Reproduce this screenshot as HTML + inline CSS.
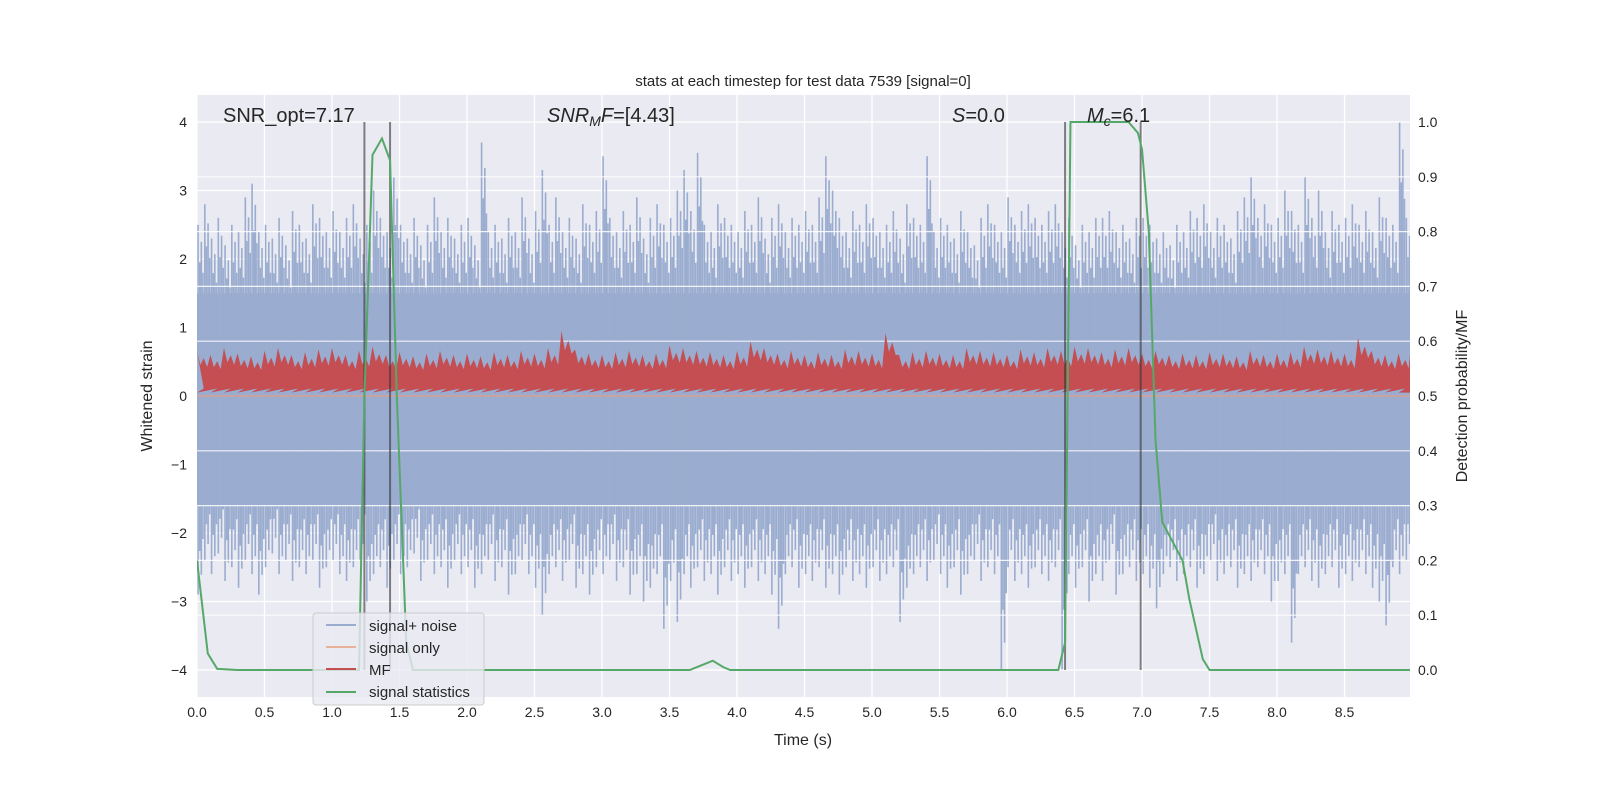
<!DOCTYPE html>
<html><head><meta charset="utf-8"><style>
body{margin:0;background:#fff;}
svg text{font-family:"Liberation Sans","DejaVu Sans",sans-serif;fill:#262626;}
</style></head><body>
<svg id="chart" width="1600" height="800" xmlns="http://www.w3.org/2000/svg">
<defs><clipPath id="pc"><rect x="197" y="95" width="1213" height="602"/></clipPath></defs>
<rect x="197" y="95" width="1213" height="602" fill="#eaeaf2"/>
<g id="grid"></g><g id="marks" clip-path="url(#pc)"></g><g id="axes"></g>
<text x="803" y="86" font-size="15" text-anchor="middle">stats at each timestep for test data 7539 [signal=0]</text>
<text x="223" y="122" font-size="20">SNR_opt=7.17</text>
<text x="547" y="122" font-size="20"><tspan font-style="italic">SNR</tspan><tspan font-style="italic" font-size="14" dy="4">M</tspan><tspan font-style="italic" dy="-4">F</tspan>=[4.43]</text>
<text x="952" y="122" font-size="20"><tspan font-style="italic">S</tspan>=0.0</text>
<text x="1087" y="122" font-size="20"><tspan font-style="italic">M</tspan><tspan font-style="italic" font-size="14" dy="4">c</tspan><tspan dy="-4">=6.1</tspan></text>
<text x="803" y="745" font-size="16" text-anchor="middle">Time (s)</text>
<text transform="translate(152,396) rotate(-90)" font-size="16" text-anchor="middle">Whitened strain</text>
<text transform="translate(1467,396) rotate(-90)" font-size="16" text-anchor="middle">Detection probability/MF</text>
<g id="legend">
<rect x="313" y="613" width="171" height="92" rx="3" fill="#eaeaf2" fill-opacity="0.8" stroke="#cccccc"/>
<line x1="326" y1="625" x2="356" y2="625" stroke="#9aaccf" stroke-width="2"/>
<text x="369" y="631" font-size="15">signal+ noise</text>
<line x1="326" y1="647" x2="356" y2="647" stroke="#e8b19a" stroke-width="2"/>
<text x="369" y="653" font-size="15">signal only</text>
<line x1="326" y1="669" x2="356" y2="669" stroke="#c44e52" stroke-width="2"/>
<text x="369" y="675" font-size="15">MF</text>
<line x1="326" y1="692" x2="356" y2="692" stroke="#55a868" stroke-width="2"/>
<text x="369" y="697" font-size="15">signal statistics</text>
</g>
</svg>
<script>
const xTicks=[0,0.5,1,1.5,2,2.5,3,3.5,4,4.5,5,5.5,6,6.5,7,7.5,8,8.5];
const yTicks=[-4,-3,-2,-1,0,1,2,3,4];
const y2Ticks=[0,0.1,0.2,0.3,0.4,0.5,0.6,0.7,0.8,0.9,1.0];
const binStep=0.05;
const noiseHi=[2.5,2.8,2.3,2.6,2.2,2.5,2.4,2.9,3.1,2.4,2.5,2.3,2.6,2.2,2.7,2.5,2.3,2.8,2.6,2.4,2.7,2.4,2.6,2.8,2.3,2.5,3.0,2.6,2.4,3.2,2.5,2.3,2.6,2.2,2.5,2.9,2.4,2.6,2.3,2.5,2.6,2.2,3.7,2.4,2.5,2.3,2.6,2.4,2.9,2.3,2.7,3.3,2.5,2.9,2.4,2.6,2.3,2.8,2.5,2.7,3.5,2.6,2.4,2.7,2.5,2.9,2.3,2.6,2.8,2.5,2.6,3.0,3.3,2.7,3.55,2.5,2.4,2.8,2.6,2.5,2.4,2.7,2.5,2.9,2.3,2.6,2.8,2.4,2.6,2.5,2.7,2.5,2.9,3.5,3.0,2.6,2.4,2.7,2.5,2.8,2.6,2.4,2.5,2.7,2.3,2.8,2.6,2.5,3.5,2.4,2.6,2.5,2.3,2.7,2.4,2.2,2.6,2.8,2.5,2.4,2.9,2.5,2.7,2.8,2.6,2.5,2.7,2.8,2.4,2.6,2.2,2.5,2.4,2.6,2.6,2.7,2.4,2.5,2.3,2.6,2.6,2.5,2.3,2.4,2.2,2.5,2.4,2.7,2.6,2.8,2.4,2.6,2.5,2.3,2.7,2.9,3.2,2.6,2.8,2.5,2.6,3.0,2.7,2.5,3.2,2.6,3.0,2.4,2.7,2.5,2.6,2.8,2.5,2.7,2.4,2.9,2.6,2.5,4.0,2.6];
const noiseLo=[-2.9,-2.4,-2.6,-2.3,-2.7,-2.5,-2.8,-2.4,-2.6,-2.9,-2.5,-2.3,-2.6,-2.4,-2.7,-2.5,-2.6,-2.4,-2.8,-2.5,-2.4,-2.6,-2.7,-2.5,-2.4,-3.0,-2.6,-2.5,-2.8,-2.4,-2.6,-2.5,-2.3,-2.7,-2.4,-2.6,-2.5,-2.8,-2.4,-2.6,-2.5,-2.8,-2.6,-2.4,-2.7,-2.5,-2.9,-2.6,-2.4,-2.6,-2.8,-3.2,-2.6,-2.5,-2.7,-2.4,-2.8,-2.6,-2.9,-2.5,-2.6,-2.4,-2.7,-2.5,-2.9,-2.6,-3.0,-2.8,-2.6,-3.4,-2.7,-3.3,-2.6,-2.8,-2.5,-2.7,-2.6,-2.9,-2.5,-2.7,-2.6,-2.8,-2.5,-2.7,-2.6,-2.9,-3.4,-2.6,-2.5,-2.8,-2.6,-2.7,-2.5,-2.8,-2.6,-2.9,-2.5,-2.7,-2.6,-2.8,-2.5,-2.7,-2.6,-2.5,-3.3,-2.8,-2.6,-2.5,-2.7,-2.4,-2.6,-2.8,-2.5,-2.9,-2.6,-2.4,-2.7,-2.5,-2.6,-4.0,-2.5,-2.7,-2.6,-2.8,-2.5,-2.6,-2.7,-2.5,-4.0,-2.6,-2.8,-2.5,-3.0,-2.6,-2.7,-2.4,-2.9,-2.6,-2.5,-2.7,-2.6,-2.8,-3.1,-2.6,-2.5,-2.7,-2.6,-2.5,-2.8,-2.6,-2.4,-2.7,-2.6,-2.5,-2.8,-2.6,-2.7,-2.5,-2.6,-3.0,-2.7,-2.6,-3.6,-2.6,-2.5,-2.7,-2.8,-2.6,-2.5,-2.8,-2.6,-2.7,-2.5,-2.6,-2.8,-3.0,-3.35,-2.5,-2.6,-2.4];
const mfStep=0.1;
const mfHi=[0.65,0.6,0.7,0.62,0.58,0.66,0.7,0.6,0.64,0.68,0.7,0.6,0.66,0.72,0.6,0.64,0.58,0.62,0.66,0.6,0.62,0.58,0.64,0.6,0.66,0.62,0.7,0.95,0.68,0.62,0.6,0.64,0.66,0.6,0.62,0.74,0.7,0.66,0.64,0.6,0.66,0.8,0.7,0.62,0.66,0.6,0.64,0.6,0.68,0.66,0.62,0.92,0.6,0.64,0.66,0.62,0.6,0.7,0.66,0.64,0.6,0.68,0.64,0.7,0.66,0.72,0.7,0.64,0.68,0.7,0.62,0.66,0.6,0.62,0.6,0.64,0.62,0.58,0.66,0.6,0.62,0.64,0.72,0.68,0.66,0.62,0.85,0.66,0.6,0.62];
const mfLo=0.05;
const statT=[0,0.08,0.15,0.3,1.2,1.24,1.3,1.37,1.43,1.48,1.55,1.6,3.65,3.75,3.82,3.9,3.95,6.38,6.43,6.47,6.55,6.9,6.97,7.0,7.05,7.1,7.15,7.3,7.35,7.45,7.5,8.99];
const statP=[0.2,0.03,0.002,0,0,0.5,0.94,0.97,0.93,0.5,0.05,0,0,0.01,0.017,0.005,0,0,0.05,1.0,1.0,1.0,0.98,0.95,0.8,0.42,0.27,0.2,0.13,0.02,0,0];
const vLines=[1.24,1.43,6.43,6.99];
const X0=197,X1=1410,XMAX=8.985;
const xS=t=>X0+t/XMAX*(X1-X0);
const yS=v=>396-v*68.5;
const y2S=p=>670-p*548;
const NS='http://www.w3.org/2000/svg';
function mk(tag,attrs,parent){const e=document.createElementNS(NS,tag);for(const k in attrs)e.setAttribute(k,attrs[k]);parent.appendChild(e);return e;}
const grid=document.getElementById('grid'),marks=document.getElementById('marks'),axes=document.getElementById('axes');
xTicks.forEach(t=>{const l=mk('line',{x1:xS(t),x2:xS(t),y1:95,y2:697,stroke:'#fff','stroke-width':1.3},grid);


const tx=mk('text',{x:xS(t),y:717,'font-size':14,'text-anchor':'middle'},axes);tx.textContent=t.toFixed(1);

});
yTicks.forEach(v=>{const l=mk('line',{x1:X0,x2:X1,y1:yS(v),y2:yS(v),stroke:'#fff','stroke-width':1.3},grid);


const tx=mk('text',{x:187,y:yS(v)+5,'font-size':14,'text-anchor':'end'},axes);tx.textContent=(v<0?'\u2212'+(-v):v);

});
y2Ticks.forEach(p=>{const tx=mk('text',{x:1418,y:y2S(p)+5,'font-size':14},axes);tx.textContent=p.toFixed(1);

});
const core=mk('rect',{x:X0,y:yS(1.5),width:X1-X0,height:yS(-1.6)-yS(1.5),fill:'#9aaccf'},marks);


const fr=[[0.008,1],[0.02,0.78],[0.032,0.9],[0.044,0.72]];
noiseHi.forEach((h,i)=>{const t=i*binStep;const lo=(noiseLo[i]!==undefined)?noiseLo[i]:-2.5;
fr.forEach(([o,f])=>{
const a=mk('line',{x1:xS(t+o),x2:xS(t+o),y1:yS(h*f),y2:yS(lo*f),stroke:'#9aaccf','stroke-width':1.6},marks);

});});
y2Ticks.forEach(p=>{const l=mk('line',{x1:X0,x2:X1,y1:y2S(p),y2:y2S(p),stroke:'#fff','stroke-width':1.2,'stroke-opacity':0.85},marks);

});
const sig=mk('line',{x1:X0,x2:X1,y1:yS(0),y2:yS(0),stroke:'#c9a3a0','stroke-width':2},marks);


let up='',dn='';
mfHi.forEach((h,i)=>{const t=i*mfStep;up+=`${xS(t)},${yS(h)} ${xS(t+0.025)},${yS(h*0.7)} ${xS(t+0.05)},${yS(h*0.85)} ${xS(t+0.075)},${yS(h*0.65)} `;dn=`${xS(t)},${yS(mfLo)} ${xS(t+0.05)},${yS(mfLo+0.06)} `+dn;});
const mf=mk('polygon',{points:up+`${X1},${yS(0.6)} ${X1},${yS(mfLo)} `+dn,fill:'#c44e52'},marks);


vLines.forEach(t=>{const l=mk('line',{x1:xS(t),x2:xS(t),y1:yS(4),y2:yS(-4),stroke:'#333','stroke-opacity':0.6,'stroke-width':2},marks);

});
const st=mk('polyline',{points:statT.map((t,i)=>xS(t)+','+y2S(statP[i])).join(' '),fill:'none',stroke:'#55a868','stroke-width':2},marks);


</script>
</body></html>
